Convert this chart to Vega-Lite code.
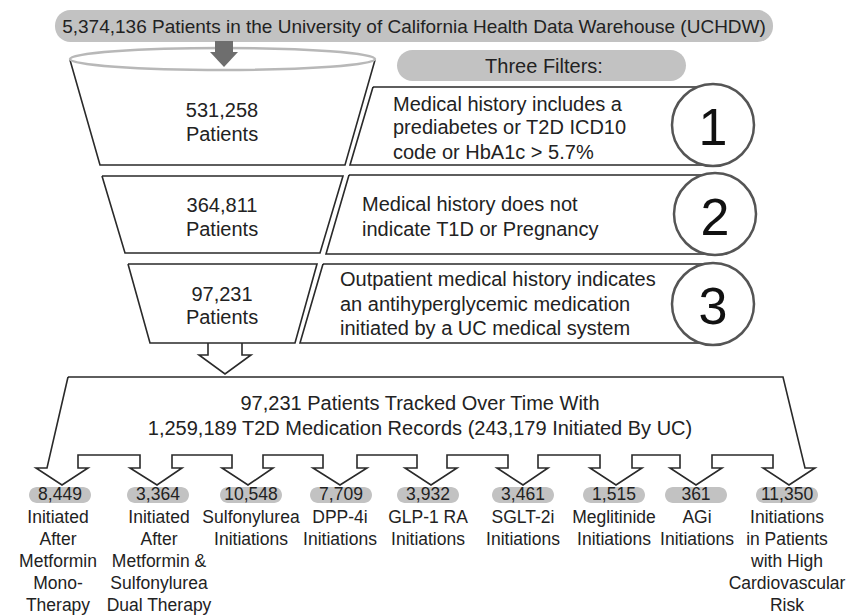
{
  "$schema": "https://vega.github.io/schema/vega-lite/v6.json",
  "width": 851,
  "height": 616,
  "padding": 0,
  "autosize": {"type": "none"},
  "background": "white",
  "config": {"view": {"stroke": null}},
  "datasets": {
    "lines": [
      {"id": "s1", "o": 0, "x": 70, "y": 60}, {"id": "s1", "o": 1, "x": 100, "y": 165}, {"id": "s1", "o": 2, "x": 345, "y": 165}, {"id": "s1", "o": 3, "x": 375, "y": 60},
      {"id": "s2", "o": 0, "x": 102, "y": 176}, {"id": "s2", "o": 1, "x": 343, "y": 176}, {"id": "s2", "o": 2, "x": 320, "y": 253}, {"id": "s2", "o": 3, "x": 125, "y": 253}, {"id": "s2", "o": 4, "x": 102, "y": 176},
      {"id": "s3", "o": 0, "x": 128, "y": 264}, {"id": "s3", "o": 1, "x": 317, "y": 264}, {"id": "s3", "o": 2, "x": 295, "y": 343}, {"id": "s3", "o": 3, "x": 150, "y": 343}, {"id": "s3", "o": 4, "x": 128, "y": 264},
      {"id": "b1", "o": 0, "x": 373, "y": 87}, {"id": "b1", "o": 1, "x": 713, "y": 87}, {"id": "b1", "o": 2, "x": 713, "y": 165}, {"id": "b1", "o": 3, "x": 350, "y": 165}, {"id": "b1", "o": 4, "x": 373, "y": 87},
      {"id": "b2", "o": 0, "x": 349, "y": 175}, {"id": "b2", "o": 1, "x": 715, "y": 175}, {"id": "b2", "o": 2, "x": 715, "y": 254}, {"id": "b2", "o": 3, "x": 326, "y": 254}, {"id": "b2", "o": 4, "x": 349, "y": 175},
      {"id": "b3", "o": 0, "x": 323, "y": 264}, {"id": "b3", "o": 1, "x": 713, "y": 264}, {"id": "b3", "o": 2, "x": 713, "y": 343}, {"id": "b3", "o": 3, "x": 300, "y": 343}, {"id": "b3", "o": 4, "x": 323, "y": 264},
      {"id": "a0", "o": 0, "x": 208, "y": 343}, {"id": "a0", "o": 1, "x": 208, "y": 355}, {"id": "a0", "o": 2, "x": 199, "y": 355}, {"id": "a0", "o": 3, "x": 225, "y": 374}, {"id": "a0", "o": 4, "x": 251, "y": 355}, {"id": "a0", "o": 5, "x": 242, "y": 355}, {"id": "a0", "o": 6, "x": 242, "y": 343},
      {"id": "big", "o": 0, "x": 68, "y": 377}, {"id": "big", "o": 1, "x": 783, "y": 377}, {"id": "big", "o": 2, "x": 805, "y": 468}, {"id": "big", "o": 3, "x": 815, "y": 468},
      {"id": "big", "o": 4, "x": 789, "y": 485}, {"id": "big", "o": 5, "x": 763, "y": 468}, {"id": "big", "o": 6, "x": 773, "y": 468}, {"id": "big", "o": 7, "x": 773, "y": 455},
      {"id": "big", "o": 8, "x": 712, "y": 455}, {"id": "big", "o": 9, "x": 712, "y": 468}, {"id": "big", "o": 10, "x": 722, "y": 468}, {"id": "big", "o": 11, "x": 696, "y": 485},
      {"id": "big", "o": 12, "x": 670, "y": 468}, {"id": "big", "o": 13, "x": 680, "y": 468}, {"id": "big", "o": 14, "x": 680, "y": 455}, {"id": "big", "o": 15, "x": 632, "y": 455},
      {"id": "big", "o": 16, "x": 632, "y": 468}, {"id": "big", "o": 17, "x": 642, "y": 468}, {"id": "big", "o": 18, "x": 616, "y": 485}, {"id": "big", "o": 19, "x": 590, "y": 468},
      {"id": "big", "o": 20, "x": 600, "y": 468}, {"id": "big", "o": 21, "x": 600, "y": 455}, {"id": "big", "o": 22, "x": 538, "y": 455}, {"id": "big", "o": 23, "x": 538, "y": 468},
      {"id": "big", "o": 24, "x": 548, "y": 468}, {"id": "big", "o": 25, "x": 523, "y": 485}, {"id": "big", "o": 26, "x": 497, "y": 468}, {"id": "big", "o": 27, "x": 508, "y": 468},
      {"id": "big", "o": 28, "x": 508, "y": 455}, {"id": "big", "o": 29, "x": 447, "y": 455}, {"id": "big", "o": 30, "x": 447, "y": 468}, {"id": "big", "o": 31, "x": 457, "y": 468},
      {"id": "big", "o": 32, "x": 431, "y": 485}, {"id": "big", "o": 33, "x": 405, "y": 468}, {"id": "big", "o": 34, "x": 417, "y": 468}, {"id": "big", "o": 35, "x": 417, "y": 455},
      {"id": "big", "o": 36, "x": 357, "y": 455}, {"id": "big", "o": 37, "x": 357, "y": 468}, {"id": "big", "o": 38, "x": 367, "y": 468}, {"id": "big", "o": 39, "x": 340, "y": 485},
      {"id": "big", "o": 40, "x": 313, "y": 468}, {"id": "big", "o": 41, "x": 323, "y": 468}, {"id": "big", "o": 42, "x": 323, "y": 455}, {"id": "big", "o": 43, "x": 263, "y": 455},
      {"id": "big", "o": 44, "x": 263, "y": 468}, {"id": "big", "o": 45, "x": 273, "y": 468}, {"id": "big", "o": 46, "x": 248, "y": 485}, {"id": "big", "o": 47, "x": 222, "y": 468},
      {"id": "big", "o": 48, "x": 232, "y": 468}, {"id": "big", "o": 49, "x": 232, "y": 455}, {"id": "big", "o": 50, "x": 172, "y": 455}, {"id": "big", "o": 51, "x": 172, "y": 468},
      {"id": "big", "o": 52, "x": 182, "y": 468}, {"id": "big", "o": 53, "x": 157, "y": 485}, {"id": "big", "o": 54, "x": 130, "y": 468}, {"id": "big", "o": 55, "x": 140, "y": 468},
      {"id": "big", "o": 56, "x": 140, "y": 455}, {"id": "big", "o": 57, "x": 78, "y": 455}, {"id": "big", "o": 58, "x": 78, "y": 468}, {"id": "big", "o": 59, "x": 88, "y": 468},
      {"id": "big", "o": 60, "x": 62, "y": 485}, {"id": "big", "o": 61, "x": 36, "y": 468}, {"id": "big", "o": 62, "x": 47, "y": 468}, {"id": "big", "o": 63, "x": 68, "y": 377}
    ],
    "rects": [
      {"k": "banner", "x": 55, "x2": 773, "y": 10, "y2": 42},
      {"k": "banner", "x": 397, "x2": 686, "y": 50, "y2": 81},
      {"k": "pill", "x": 29, "x2": 91, "y": 487, "y2": 503},
      {"k": "pill", "x": 127, "x2": 189, "y": 487, "y2": 503},
      {"k": "pill", "x": 220, "x2": 282, "y": 487, "y2": 503},
      {"k": "pill", "x": 310, "x2": 372, "y": 487, "y2": 503},
      {"k": "pill", "x": 397, "x2": 459, "y": 487, "y2": 503},
      {"k": "pill", "x": 492, "x2": 554, "y": 487, "y2": 503},
      {"k": "pill", "x": 583, "x2": 645, "y": 487, "y2": 503},
      {"k": "pill", "x": 665, "x2": 727, "y": 487, "y2": 503},
      {"k": "pill", "x": 756, "x2": 818, "y": 487, "y2": 503},
      {"k": "shaft", "x": 215, "x2": 233, "y": 41, "y2": 53}
    ],
    "head": [
      {"x": 210, "y": 52, "y2": 52},
      {"x": 224, "y": 52, "y2": 67},
      {"x": 238, "y": 52, "y2": 52}
    ],
    "ellipse": [{"x": 222.5, "y": 59}],
    "circles": [
      {"x": 713, "y": 125, "n": "1"},
      {"x": 715, "y": 214, "n": "2"},
      {"x": 713, "y": 304, "n": "3"}
    ],
    "texts": [
      {"g": "banner", "x": 414, "y": 26.5, "t": "5,374,136 Patients in the University of California Health Data Warehouse (UCHDW)"},
      {"g": "body", "x": 544, "y": 66.5, "t": "Three Filters:"},
      {"g": "body", "x": 222, "y": 111, "t": "531,258"},
      {"g": "body", "x": 222, "y": 135, "t": "Patients"},
      {"g": "body", "x": 222, "y": 206, "t": "364,811"},
      {"g": "body", "x": 222, "y": 230, "t": "Patients"},
      {"g": "body", "x": 222, "y": 295, "t": "97,231"},
      {"g": "body", "x": 222, "y": 318, "t": "Patients"},
      {"g": "body", "x": 420, "y": 404, "t": "97,231 Patients Tracked Over Time With"},
      {"g": "body", "x": 420, "y": 429, "t": "1,259,189 T2D Medication Records (243,179 Initiated By UC)"},
      {"g": "left", "x": 393, "y": 105, "t": "Medical history includes a"},
      {"g": "left", "x": 393, "y": 128, "t": "prediabetes or T2D ICD10"},
      {"g": "left", "x": 393, "y": 153, "t": "code or HbA1c > 5.7%"},
      {"g": "left", "x": 362, "y": 205, "t": "Medical history does not"},
      {"g": "left", "x": 362, "y": 230, "t": "indicate T1D or Pregnancy"},
      {"g": "left", "x": 340, "y": 280, "t": "Outpatient medical history indicates"},
      {"g": "left", "x": 340, "y": 305, "t": "an antihyperglycemic medication"},
      {"g": "left", "x": 340, "y": 329, "t": "initiated by a UC medical system"},
      {"g": "num", "x": 713, "y": 128.5, "t": "1"},
      {"g": "num", "x": 715, "y": 219, "t": "2"},
      {"g": "num", "x": 713, "y": 307.5, "t": "3"},
      {"g": "label", "x": 60, "y": 495, "t": "8,449"},
      {"g": "label", "x": 158, "y": 495, "t": "3,364"},
      {"g": "label", "x": 251, "y": 495, "t": "10,548"},
      {"g": "label", "x": 341, "y": 495, "t": "7,709"},
      {"g": "label", "x": 428, "y": 495, "t": "3,932"},
      {"g": "label", "x": 523, "y": 495, "t": "3,461"},
      {"g": "label", "x": 614, "y": 495, "t": "1,515"},
      {"g": "label", "x": 696, "y": 495, "t": "361"},
      {"g": "label", "x": 787, "y": 495, "t": "11,350"},
      {"g": "label", "x": 58, "y": 518, "t": "Initiated"},
      {"g": "label", "x": 58, "y": 540, "t": "After"},
      {"g": "label", "x": 58, "y": 562, "t": "Metformin"},
      {"g": "label", "x": 58, "y": 584, "t": "Mono-"},
      {"g": "label", "x": 58, "y": 606, "t": "Therapy"},
      {"g": "label", "x": 159, "y": 518, "t": "Initiated"},
      {"g": "label", "x": 159, "y": 540, "t": "After"},
      {"g": "label", "x": 159, "y": 562, "t": "Metformin &"},
      {"g": "label", "x": 159, "y": 584, "t": "Sulfonylurea"},
      {"g": "label", "x": 159, "y": 606, "t": "Dual Therapy"},
      {"g": "label", "x": 251, "y": 518, "t": "Sulfonylurea"},
      {"g": "label", "x": 251, "y": 540, "t": "Initiations"},
      {"g": "label", "x": 340, "y": 518, "t": "DPP-4i"},
      {"g": "label", "x": 340, "y": 540, "t": "Initiations"},
      {"g": "label", "x": 428, "y": 518, "t": "GLP-1 RA"},
      {"g": "label", "x": 428, "y": 540, "t": "Initiations"},
      {"g": "label", "x": 523, "y": 518, "t": "SGLT-2i"},
      {"g": "label", "x": 523, "y": 540, "t": "Initiations"},
      {"g": "label", "x": 614, "y": 518, "t": "Meglitinide"},
      {"g": "label", "x": 614, "y": 540, "t": "Initiations"},
      {"g": "label", "x": 697, "y": 518, "t": "AGi"},
      {"g": "label", "x": 697, "y": 540, "t": "Initiations"},
      {"g": "label", "x": 787, "y": 518, "t": "Initiations"},
      {"g": "label", "x": 787, "y": 540, "t": "in Patients"},
      {"g": "label", "x": 787, "y": 562, "t": "with High"},
      {"g": "label", "x": 787, "y": 584, "t": "Cardiovascular"},
      {"g": "label", "x": 787, "y": 606, "t": "Risk"}
    ]
  },
  "encoding": {
    "x": {"field": "x", "type": "quantitative", "scale": {"domain": [0, 851], "nice": false, "zero": false}, "axis": null},
    "y": {"field": "y", "type": "quantitative", "scale": {"domain": [0, 616], "nice": false, "zero": false, "reverse": true}, "axis": null}
  },
  "layer": [
    {
      "data": {"name": "lines"},
      "mark": {"type": "line", "color": "#2a2a2a", "strokeWidth": 1.6, "strokeJoin": "miter", "interpolate": "linear"},
      "encoding": {"detail": {"field": "id"}, "order": {"field": "o", "type": "quantitative"}}
    },
    {
      "data": {"name": "ellipse"},
      "mark": {"type": "point", "shape": "M-1,0C-1,-0.0398,-0.5523,-0.0721,0,-0.0721C0.5523,-0.0721,1,-0.0398,1,0C1,0.0398,0.5523,0.0721,0,0.0721C-0.5523,0.0721,-1,0.0398,-1,0Z", "size": 93025, "filled": true, "fill": "white", "stroke": "#b8b8b8", "strokeWidth": 2.5, "opacity": 1},
      "encoding": {}
    },
    {
      "data": {"name": "rects"},
      "transform": [{"filter": "datum.k === 'banner'"}],
      "mark": {"type": "rect", "color": "#c2c2c2", "cornerRadius": 15.5},
      "encoding": {"x2": {"field": "x2"}, "y2": {"field": "y2"}}
    },
    {
      "data": {"name": "rects"},
      "transform": [{"filter": "datum.k === 'pill'"}],
      "mark": {"type": "rect", "color": "#c2c2c2", "cornerRadius": 8},
      "encoding": {"x2": {"field": "x2"}, "y2": {"field": "y2"}}
    },
    {
      "data": {"name": "rects"},
      "transform": [{"filter": "datum.k === 'shaft'"}],
      "mark": {"type": "rect", "color": "#6e6e6e"},
      "encoding": {"x2": {"field": "x2"}, "y2": {"field": "y2"}}
    },
    {
      "data": {"name": "head"},
      "mark": {"type": "area", "color": "#6e6e6e", "opacity": 1, "interpolate": "linear"},
      "encoding": {"y2": {"field": "y2"}}
    },
    {
      "data": {"name": "circles"},
      "mark": {"type": "point", "shape": "circle", "size": 6724, "filled": true, "fill": "white", "stroke": "#555555", "strokeWidth": 2.5, "opacity": 1},
      "encoding": {}
    },
    {
      "data": {"name": "texts"},
      "transform": [{"filter": "datum.g === 'banner'"}],
      "mark": {"type": "text", "font": "Liberation Sans", "fontSize": 19, "align": "center", "baseline": "middle", "color": "#222222"},
      "encoding": {"text": {"field": "t"}}
    },
    {
      "data": {"name": "texts"},
      "transform": [{"filter": "datum.g === 'body'"}],
      "mark": {"type": "text", "font": "Liberation Sans", "fontSize": 20, "align": "center", "baseline": "middle", "color": "#222222"},
      "encoding": {"text": {"field": "t"}}
    },
    {
      "data": {"name": "texts"},
      "transform": [{"filter": "datum.g === 'left'"}],
      "mark": {"type": "text", "font": "Liberation Sans", "fontSize": 20, "align": "left", "baseline": "middle", "color": "#222222"},
      "encoding": {"text": {"field": "t"}}
    },
    {
      "data": {"name": "texts"},
      "transform": [{"filter": "datum.g === 'num'"}],
      "mark": {"type": "text", "font": "Liberation Sans", "fontSize": 52, "align": "center", "baseline": "middle", "color": "#111111"},
      "encoding": {"text": {"field": "t"}}
    },
    {
      "data": {"name": "texts"},
      "transform": [{"filter": "datum.g === 'label'"}],
      "mark": {"type": "text", "font": "Liberation Sans", "fontSize": 17.5, "align": "center", "baseline": "middle", "color": "#222222"},
      "encoding": {"text": {"field": "t"}}
    }
  ]
}
